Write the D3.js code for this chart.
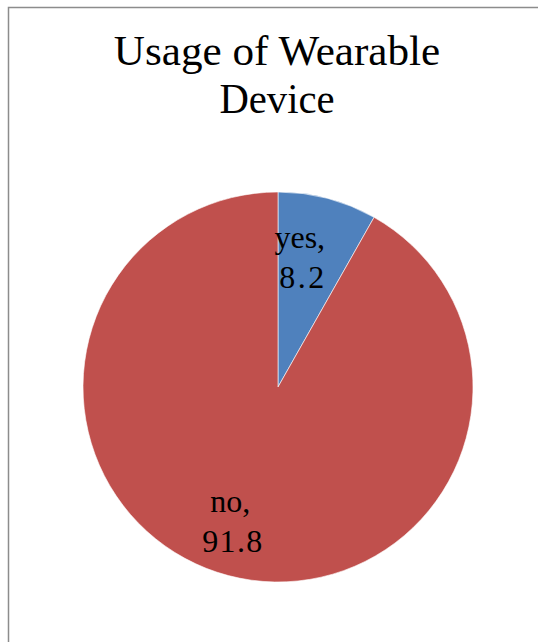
<!DOCTYPE html>
<html><head><meta charset="utf-8">
<script src="https://cdn.jsdelivr.net/npm/d3@7"></script>
<style>body{margin:0;background:#fff}svg{display:block}</style>
</head><body>
<script>
const categories = ["yes", "no"];
const values = [8.2, 91.8];
const colors = ["#4F81BD", "#C0504D"];
const titleLines = ["Usage of Wearable", "Device"];

const W = 538, H = 642;
const svg = d3.select("body").append("svg").attr("width", W).attr("height", H);
svg.append("rect").attr("width", W).attr("height", H).attr("fill", "#fff");
svg.append("path").attr("d", `M8.5,${H} V7.5 H${W}`).attr("fill", "none").attr("stroke", "#8c8c8c").attr("stroke-width", 1.5);

const font = "'Liberation Serif', 'Times New Roman', serif";
const titlePitch = 19.2;
titleLines.forEach((t, i) => {
  svg.append("text")
    .attr("x", 277).attr("y", 65 + i * 48)
    .attr("text-anchor", "middle")
    .attr("font-family", font).attr("font-size", 42)
    .attr("textLength", t.length * titlePitch)
    .attr("lengthAdjust", "spacingAndGlyphs")
    .attr("fill", "#000").text(t);
});

const cx = 278, cy = 387, R = 195;
const pie = d3.pie().sort(null).value(d => d.v);
const data = pie(categories.map((c, i) => ({c, v: values[i], col: colors[i]})));
const arc = d3.arc().innerRadius(0).outerRadius(R);
const labelArc = d3.arc().innerRadius(R * 0.7).outerRadius(R * 0.7);
const g = svg.append("g").attr("transform", `translate(${cx},${cy})`);
g.selectAll("path").data(data).join("path")
  .attr("d", arc).attr("fill", d => d.data.col)
  .attr("stroke", "#fff").attr("stroke-width", 0.6);

const numPitch = 15;
data.forEach(d => {
  const [x, y] = labelArc.centroid(d);
  const lx = x - 13, ly = y + 12;
  g.append("text")
    .attr("x", lx).attr("y", ly - 19)
    .attr("text-anchor", "middle")
    .attr("font-family", font).attr("font-size", 32)
    .attr("fill", "#000").text(d.data.c + ",");
  const num = d.data.v.toFixed(1);
  g.append("text")
    .attr("x", lx + 2).attr("y", ly + 21)
    .attr("text-anchor", "middle")
    .attr("font-family", font).attr("font-size", 32)
    .attr("textLength", num.length * numPitch)
    .attr("lengthAdjust", "spacing")
    .attr("fill", "#000").text(num);
});
</script>
</body></html>
